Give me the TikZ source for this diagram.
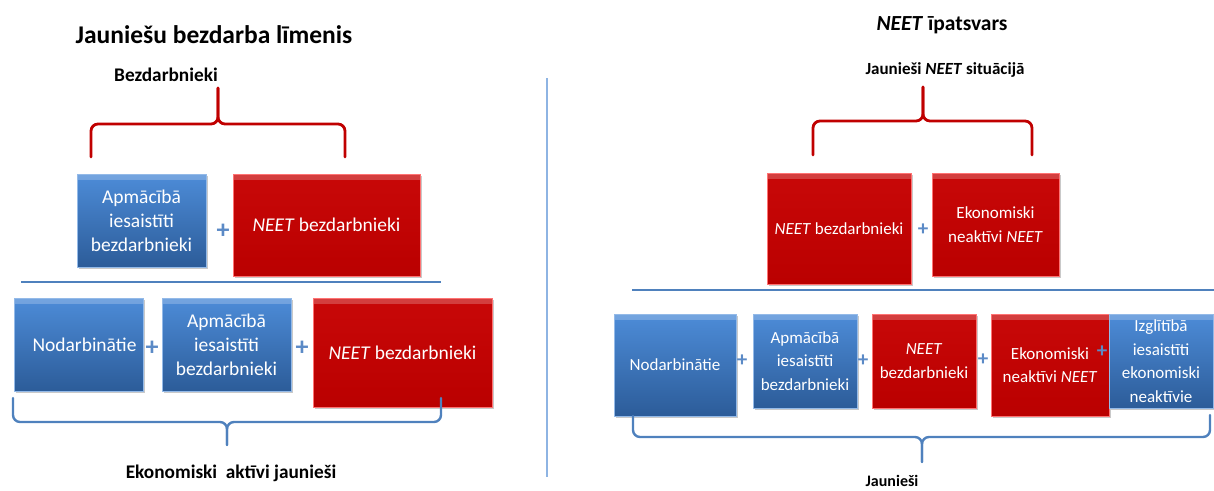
\documentclass[tikz,border=0pt]{standalone}
\usepackage{fontspec}
\setmainfont{Carlito}
\usetikzlibrary{shadows}

\definecolor{blueTop}{HTML}{4D8CD8}
\definecolor{blueBot}{HTML}{2C5C99}
\definecolor{redTop}{HTML}{C80808}
\definecolor{redBot}{HTML}{BA0000}
\definecolor{lineblue}{HTML}{4F81BD}
\definecolor{plusblue}{HTML}{5B8AC6}
\definecolor{bracered}{HTML}{C00000}
\definecolor{divblue}{HTML}{8EB4E3}

\tikzset{
  card/.style={rectangle, inner sep=0pt, text=white, align=center,
    drop shadow={shadow xshift=1.5pt, shadow yshift=-1.5pt, opacity=0.3, fill=black!70},
    path picture={\fill[white,opacity=0.22]
      (path picture bounding box.north west) rectangle
      ([yshift=-6pt]path picture bounding box.north east);}},
  bluecard/.style={card, top color=blueTop, bottom color=blueBot,
    draw=blueTop!60!white, line width=0.6pt},
  redcard/.style={card, top color=redTop, bottom color=redBot,
    draw=red!55!white, line width=0.6pt},
  bigtext/.style={font=\fontsize{19.5}{24}\selectfont},
  smalltext/.style={font=\fontsize{17}{23.5}\selectfont},
  bigplus/.style={text=plusblue, font=\bfseries\fontsize{26}{26}\selectfont, inner sep=0pt},
  smallplus/.style={text=plusblue, font=\bfseries\fontsize{21}{21}\selectfont, inner sep=0pt},
  heading/.style={font=\bfseries\fontsize{25.5}{28}\selectfont, inner sep=0pt},
  label/.style={font=\bfseries\fontsize{19.3}{22}\selectfont, inner sep=0pt},
  redbrace/.style={draw=bracered, line width=2.8pt, rounded corners=7pt, line cap=round},
  bluebrace/.style={draw=lineblue, line width=2.4pt, rounded corners=7pt, line cap=round},
  rule/.style={draw=lineblue, line width=2.2pt},
}

\begin{document}
\begin{tikzpicture}[x=1pt, y=-1pt]
\useasboundingbox (0,0) rectangle (1214,490);

% ---------------- left panel: youth unemployment rate ----------------
\node[heading] (titleL) at (214,35) {Jauniešu bezdarba līmenis};
\node[label] (bezd) at (166,75) {Bezdarbnieki};

\coordinate (rbL1) at (91,157);
\coordinate (rbL2) at (345,157);
\coordinate (rbLtip) at (218,88);
\draw[redbrace] (rbL1) -- (91,124) -- (218,124) -- (rbLtip);
\draw[redbrace] (rbL2) -- (345,124) -- (218,124) -- (rbLtip);

\node[bluecard, bigtext, minimum width=129pt, minimum height=93pt] (lTrain)
  at (141.5,220.5) {Apmācībā\\iesaistīti\\bezdarbnieki};
\node[bigplus] (lp1) at (223,231) {+};
\node[redcard, bigtext, minimum width=187pt, minimum height=102pt] (lNeet)
  at (326.5,225) {\textit{NEET} bezdarbnieki};

\coordinate (ruleL1) at (21,282);
\coordinate (ruleL2) at (441,282);
\draw[rule] (ruleL1) -- (ruleL2);

\node[bluecard, bigtext, minimum width=129pt, minimum height=93pt] (lEmp)
  at (78.5,344.5) {\hspace*{12pt}Nodarbinātie};
\node[bigplus] (lp2) at (152,348) {+};
\node[bluecard, bigtext, minimum width=129pt, minimum height=93pt] (lTrain2)
  at (226.5,344.5) {Apmācībā\\iesaistīti\\bezdarbnieki};
\node[bigplus] (lp3) at (302,348) {+};
\node[redcard, bigtext, minimum width=179pt, minimum height=109pt] (lNeet2)
  at (402.5,352.5) {\textit{NEET} bezdarbnieki};

\coordinate (bbL1) at (13,398);
\coordinate (bbL2) at (441,398);
\coordinate (bbLtip) at (227,445);
\draw[bluebrace] (bbL1) -- (13,422) -- (227,422) -- (bbLtip);
\draw[bluebrace] (bbL2) -- (441,422) -- (227,422) -- (bbLtip);
\node[label] (active) at (231,473) {Ekonomiski\ \ aktīvi jaunieši};

% ---------------- divider ----------------
\coordinate (divT) at (547,78);
\coordinate (divB) at (547,477);
\draw[divblue, line width=1.4pt] (divT) -- (divB);

% ---------------- right panel: NEET share ----------------
\node[heading, font=\bfseries\fontsize{21.5}{24}\selectfont] (titleR) at (942,25)
  {\textit{NEET} īpatsvars};
\node[label, font=\bfseries\fontsize{17}{20}\selectfont] (situ) at (945,70)
  {Jaunieši \textit{NEET} situācijā};

\coordinate (rbR1) at (813,155);
\coordinate (rbR2) at (1032,155);
\coordinate (rbRtip) at (923,87);
\draw[redbrace] (rbR1) -- (813,121) -- (923,121) -- (rbRtip);
\draw[redbrace] (rbR2) -- (1032,121) -- (923,121) -- (rbRtip);

\node[redcard, smalltext, minimum width=144pt, minimum height=111pt] (rNeet)
  at (839,228.5) {\textit{NEET} bezdarbnieki};
\node[smallplus] (rp0) at (923,230) {+};
\node[redcard, smalltext, minimum width=127pt, minimum height=103pt] (rInact)
  at (995.5,224.5) {Ekonomiski\\neaktīvi \textit{NEET}};

\coordinate (ruleR1) at (632,290);
\coordinate (ruleR2) at (1214,290);
\draw[rule] (ruleR1) -- (ruleR2);

\node[bluecard, smalltext, minimum width=122pt, minimum height=102pt] (rEmp)
  at (675,365) {Nodarbinātie};
\node[smallplus] (rp1) at (742,361) {+};
\node[bluecard, smalltext, minimum width=104pt, minimum height=94pt] (rTrain)
  at (805,361) {Apmācībā\\iesaistīti\\bezdarbnieki};
\node[smallplus] (rp2) at (863,361) {+};
\node[redcard, smalltext, minimum width=104pt, minimum height=94pt] (rNeet2)
  at (924,361) {\textit{NEET}\\bezdarbnieki};
\node[smallplus] (rp3) at (983,360) {+};
\node[redcard, smalltext, minimum width=118pt, minimum height=102pt] (rInact2)
  at (1050,365) {Ekonomiski\\neaktīvi \textit{NEET}};
\node[bluecard, smalltext, minimum width=104pt, minimum height=94pt] (rEdu)
  at (1161,361) {Izglītībā\\iesaistīti\\ekonomiski\\neaktīvie};
\node[smallplus] (rp4) at (1102,352) {+};

\coordinate (bbR1) at (633,416);
\coordinate (bbR2) at (1210,415);
\coordinate (bbRtip) at (922,462);
\draw[bluebrace] (bbR1) -- (633,437) -- (922,437) -- (bbRtip);
\draw[bluebrace] (bbR2) -- (1210,437) -- (922,437) -- (bbRtip);
\node[label, font=\bfseries\fontsize{16}{18}\selectfont, anchor=base] (youth) at (892,486) {Jaunieši};

\end{tikzpicture}
\end{document}
